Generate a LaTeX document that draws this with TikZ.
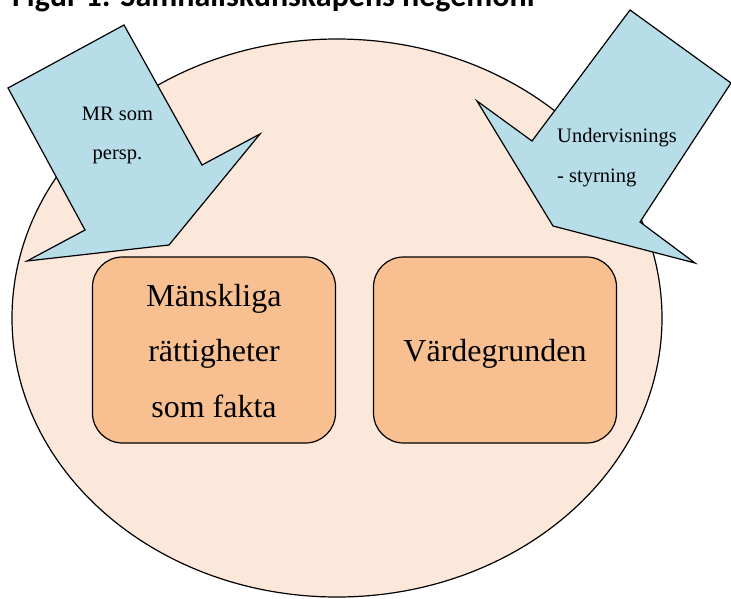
\documentclass[tikz,border=0pt]{standalone}
\usepackage{fontspec}
\setmainfont{Liberation Serif}
\setsansfont{Carlito}
\definecolor{ellfill}{HTML}{FCE8DA}
\definecolor{boxfill}{HTML}{F8C090}
\definecolor{arrfill}{HTML}{B7DDE8}
\tikzset{
  outline/.style={draw=black, line width=1.2pt, line join=miter},
  boxstyle/.style={outline, fill=boxfill, rounded corners=30pt, minimum width=243pt, minimum height=186pt, inner sep=0pt},
  bigtext/.style={font=\fontsize{32}{38}\selectfont, anchor=base, inner sep=0pt},
  smalltext/.style={font=\fontsize{20.5}{24}\selectfont, inner sep=0pt},
}
\begin{document}
\begin{tikzpicture}[x=1pt,y=-1pt]
\clip (0,0) rectangle (731,598);
\fill[white] (0,0) rectangle (731,598);
% title (cut off at the top)
\node[anchor=base west, inner sep=0pt, font=\sffamily\bfseries\fontsize{32}{38}\selectfont] (title) at (12,6.5) {Figur 1: Samhällskunskapens hegemoni};
% big ellipse
\draw[outline, fill=ellfill] (337,318) ellipse [x radius=325, y radius=279];
% boxes
\node[boxstyle] (b1) at (214,350) {};
\node[boxstyle] (b2) at (495,350) {};
\node[bigtext] (t1) at (214,306) {Mänskliga};
\node[bigtext] (t2) at (214,361.5) {rättigheter};
\node[bigtext] (t3) at (214,417) {som fakta};
\node[bigtext] (t4) at (495,361.5) {Värdegrunden};
% left arrow
\draw[outline, fill=arrfill] (124,25) -- (8,88) -- (85,230) -- (27,261) -- (169,245) -- (260,134) -- (202,165) -- cycle;
% right arrow
\draw[outline, fill=arrfill] (630,10) -- (731,83) -- (640,222) -- (695,263) -- (553,226) -- (477,101) -- (532,141) -- cycle;
% arrow labels
\node[smalltext, anchor=base] (l1) at (117.5,120) {MR som};
\node[smalltext, anchor=base] (l2) at (117.5,159) {persp.};
\node[smalltext, anchor=base west] (r1) at (557,142) {Undervisnings};
\node[smalltext, anchor=base west] (r2) at (557,182) {- styrning};
\end{tikzpicture}
\end{document}
